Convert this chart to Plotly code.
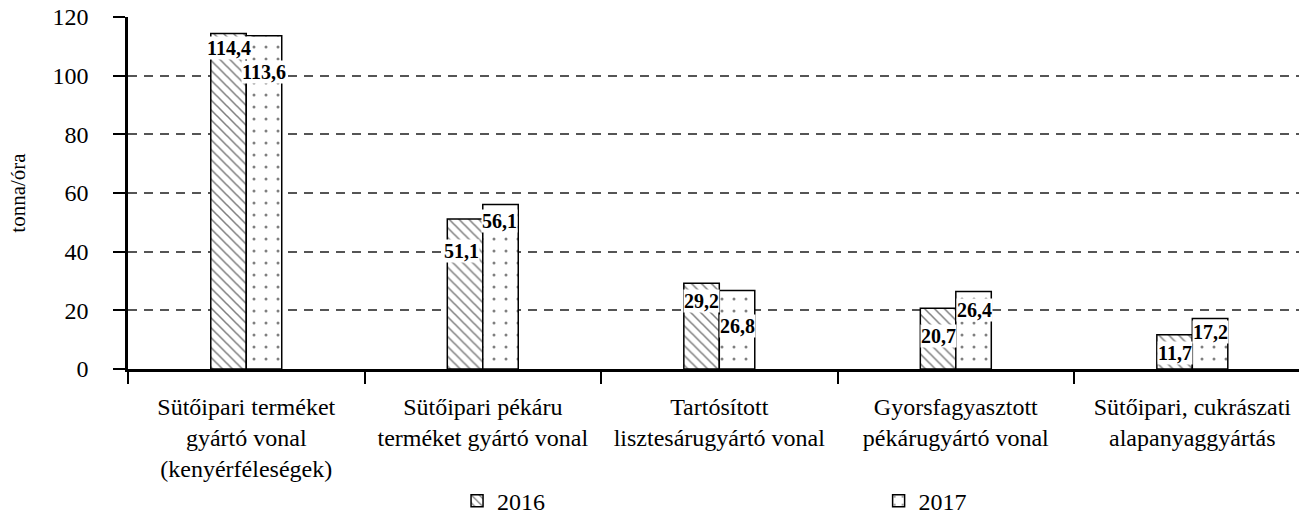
import plotly.graph_objects as go

# Category labels (line breaks as printed under the axis)
categories = [
    "Sütőipari terméket<br>gyártó vonal<br>(kenyérféleségek)",
    "Sütőipari pékáru<br>terméket gyártó vonal",
    "Tartósított<br>lisztesárugyártó vonal",
    "Gyorsfagyasztott<br>pékárugyártó vonal",
    "Sütőipari, cukrászati<br>alapanyaggyártás",
]
values_2016 = [114.4, 51.1, 29.2, 20.7, 11.7]
values_2017 = [113.6, 56.1, 26.8, 26.4, 17.2]
y_tick_values = [0, 20, 40, 60, 80, 100, 120]

# Label placement: pixels below the bar top, and small horizontal nudges
label_drop_2016 = [15, 32, 18, 28, 18]
label_drop_2017 = [36, 17, 36, 18, 13]
label_nudge_2016 = [0, -4, 0, 0, 0]
label_nudge_2017 = [0, -1, 1, 1, 0]

FONT = "Times New Roman, Liberation Serif, DejaVu Serif, serif"


def hu(v):
    return f"{v:.1f}".replace(".", ",")


fig = go.Figure()
fig.add_trace(go.Bar(
    name="2016", x=categories, y=values_2016, legend="legend",
    marker=dict(color="white", line=dict(color="black", width=1.5),
                pattern=dict(shape="\\", size=7, solidity=0.22,
                             fgcolor="black", bgcolor="white", fillmode="overlay")),
))
fig.add_trace(go.Bar(
    name="2017", x=categories, y=values_2017, legend="legend2",
    marker=dict(color="white", line=dict(color="black", width=1.5),
                pattern=dict(shape=".", size=12, solidity=0.05,
                             fgcolor="black", bgcolor="white", fillmode="overlay")),
))

half_bar_px = 17.7
for series, drops, nudges, side in (
    (values_2016, label_drop_2016, label_nudge_2016, -1),
    (values_2017, label_drop_2017, label_nudge_2017, 1),
):
    for cat, v, d, n in zip(categories, series, drops, nudges):
        fig.add_annotation(
            x=cat, y=v, xref="x", yref="y", text=hu(v), showarrow=False,
            xshift=side * half_bar_px + n, yshift=-d,
            font=dict(family=FONT, size=20, color="black", weight="bold"),
            bgcolor="white", borderpad=0,
        )

legend_style = dict(orientation="h", xanchor="left", yref="container", y=0.027,
                    yanchor="middle", font=dict(family=FONT, size=24, color="black"),
                    bgcolor="rgba(0,0,0,0)")

fig.update_layout(
    width=1299, height=515,
    margin=dict(l=128, r=0, t=17, b=146),
    paper_bgcolor="white", plot_bgcolor="white",
    barmode="group", bargap=0.7, bargroupgap=0,
    font=dict(family=FONT, size=24, color="black"),
    showlegend=True,
    legend=dict(x=0.281, **legend_style),
    legend2=dict(x=0.641, **legend_style),
    xaxis=dict(
        type="category", range=[-0.5, 4.451], tickson="boundaries",
        ticks="outside", ticklen=12, tickwidth=2, tickcolor="black",
        showline=True, linewidth=2.5, linecolor="black", automargin=False,
        ticklabelstandoff=14,
        showgrid=False, tickfont=dict(family=FONT, size=24, color="black"),
    ),
    yaxis=dict(
        range=[0, 120], tickvals=y_tick_values,
        ticks="outside", ticklen=12, tickwidth=2, tickcolor="black",
        showline=True, linewidth=2.5, linecolor="black",
        showgrid=True, gridcolor="#555555", gridwidth=1.5, griddash="9px,7px",
        zeroline=False, ticklabelstandoff=20, automargin=False,
        tickfont=dict(family=FONT, size=24, color="black"),
        title=dict(text="tonna/óra", font=dict(family=FONT, size=21, color="black"), standoff=22),
    ),
)

fig.write_html("out.html")
